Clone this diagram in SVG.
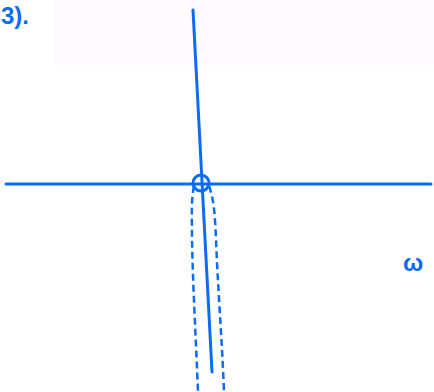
<svg xmlns="http://www.w3.org/2000/svg" width="434" height="392" viewBox="0 0 434 392">
<style>
.s{fill:none;stroke:#0a6cf5;stroke-width:3;stroke-linecap:round;stroke-linejoin:round}
.d{fill:none;stroke:#0a6cf5;stroke-width:2.5;stroke-dasharray:7 4}
.t{fill:#0a6cf5;font-family:"Liberation Sans",Arial,sans-serif;font-weight:bold}
</style>
<rect x="54" y="0" width="380" height="65" fill="#fefaff"/>
<g id="label-3"><text class="t" x="1" y="24" font-size="24">3).</text></g>
<g id="connectors">
<line class="s" x1="193" y1="10" x2="212" y2="372"/>
<line class="s" x1="6" y1="184" x2="431" y2="184"/>
<path class="d" d="M194,186 C191,200 192,215 192,240 C193,290 196,340 198,392"/>
<path class="d" d="M209,186 C214,200 215,215 216,240 C218,290 222,340 224,392"/>
</g>
<g id="origin"><circle class="s" cx="201" cy="183" r="8"/></g>
<g id="label-omega"><text class="t" x="403" y="271" font-size="24">ω</text></g>
</svg>
